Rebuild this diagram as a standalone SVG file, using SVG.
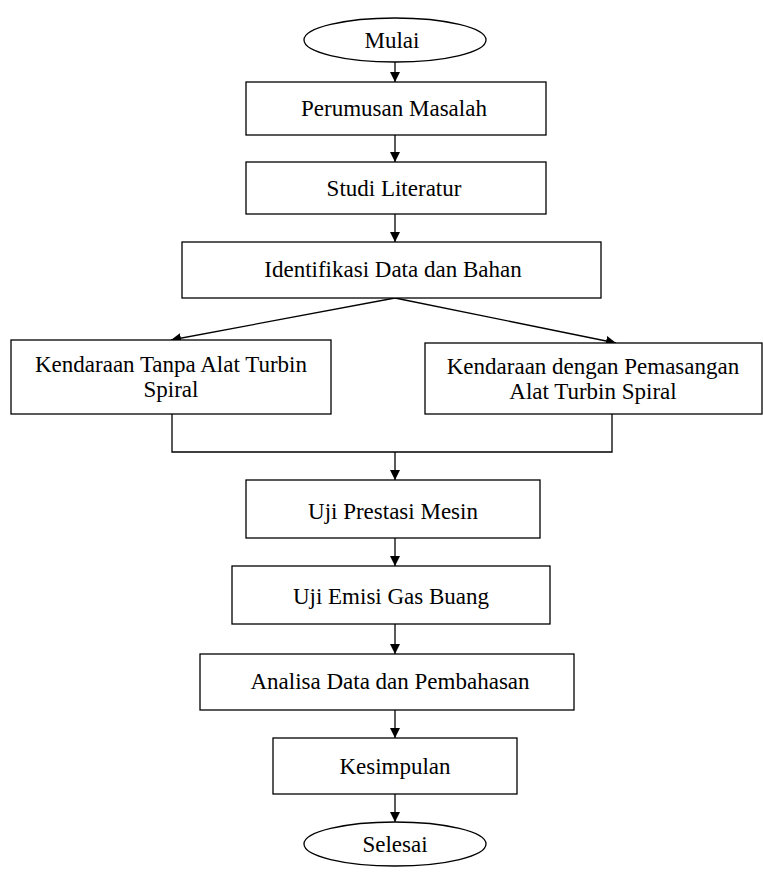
<svg xmlns="http://www.w3.org/2000/svg" width="763" height="872" viewBox="0 0 763 872">
<style>
.n{fill:#fff;stroke:#000;stroke-width:1.3}
.t{font-family:"Liberation Serif","Times New Roman",serif;font-size:23px;fill:#000;text-anchor:middle}
.c{fill:none;stroke:#000;stroke-width:1.3}
</style>
<defs>
<marker id="ah" viewBox="0 0 10 10" refX="10" refY="5" markerWidth="10" markerHeight="10" markerUnits="userSpaceOnUse" orient="auto">
<path d="M0,0 L10,5 L0,10 z" fill="#000"/>
</marker>
</defs>
<rect width="763" height="872" fill="#fff"/>
<g id="connectors">
<line class="c" x1="395" y1="62" x2="395" y2="82" marker-end="url(#ah)"/>
<line class="c" x1="395" y1="135" x2="395" y2="162" marker-end="url(#ah)"/>
<line class="c" x1="395" y1="214" x2="395" y2="242" marker-end="url(#ah)"/>
<line class="c" x1="395" y1="298" x2="171" y2="340" marker-end="url(#ah)"/>
<line class="c" x1="395" y1="298" x2="616" y2="343" marker-end="url(#ah)"/>
<polyline class="c" points="172,414 172,452 612,452 612,414"/>
<line class="c" x1="395" y1="452" x2="395" y2="480" marker-end="url(#ah)"/>
<line class="c" x1="395" y1="538" x2="395" y2="566" marker-end="url(#ah)"/>
<line class="c" x1="395" y1="624" x2="395" y2="654" marker-end="url(#ah)"/>
<line class="c" x1="395" y1="710" x2="395" y2="738" marker-end="url(#ah)"/>
<line class="c" x1="395" y1="794" x2="395" y2="822" marker-end="url(#ah)"/>
</g>
<g id="mulai"><ellipse class="n" cx="395" cy="40" rx="91" ry="22"/><text class="t" x="392" y="48">Mulai</text></g>
<g id="perumusan"><rect class="n" x="246" y="82" width="300" height="53"/><text class="t" x="394" y="116">Perumusan Masalah</text></g>
<g id="studi"><rect class="n" x="246" y="162" width="300" height="52"/><text class="t" x="394" y="196">Studi Literatur</text></g>
<g id="identifikasi"><rect class="n" x="182" y="242" width="419" height="56"/><text class="t" x="393" y="277">Identifikasi Data dan Bahan</text></g>
<g id="tanpa"><rect class="n" x="11" y="340" width="320" height="74"/><text class="t" x="171" y="372">Kendaraan Tanpa Alat Turbin</text><text class="t" x="171" y="397">Spiral</text></g>
<g id="dengan"><rect class="n" x="425" y="343" width="337" height="71"/><text class="t" x="593" y="374">Kendaraan dengan Pemasangan</text><text class="t" x="593" y="399">Alat Turbin Spiral</text></g>
<g id="prestasi"><rect class="n" x="246" y="480" width="294" height="58"/><text class="t" x="393" y="519">Uji Prestasi Mesin</text></g>
<g id="emisi"><rect class="n" x="232" y="566" width="318" height="58"/><text class="t" x="391" y="604">Uji Emisi Gas Buang</text></g>
<g id="analisa"><rect class="n" x="200" y="654" width="374" height="56"/><text class="t" x="390" y="689">Analisa Data dan Pembahasan</text></g>
<g id="kesimpulan"><rect class="n" x="273" y="738" width="244" height="56"/><text class="t" x="395" y="774">Kesimpulan</text></g>
<g id="selesai"><ellipse class="n" cx="395" cy="844" rx="91" ry="22"/><text class="t" x="395" y="852">Selesai</text></g>
</svg>
